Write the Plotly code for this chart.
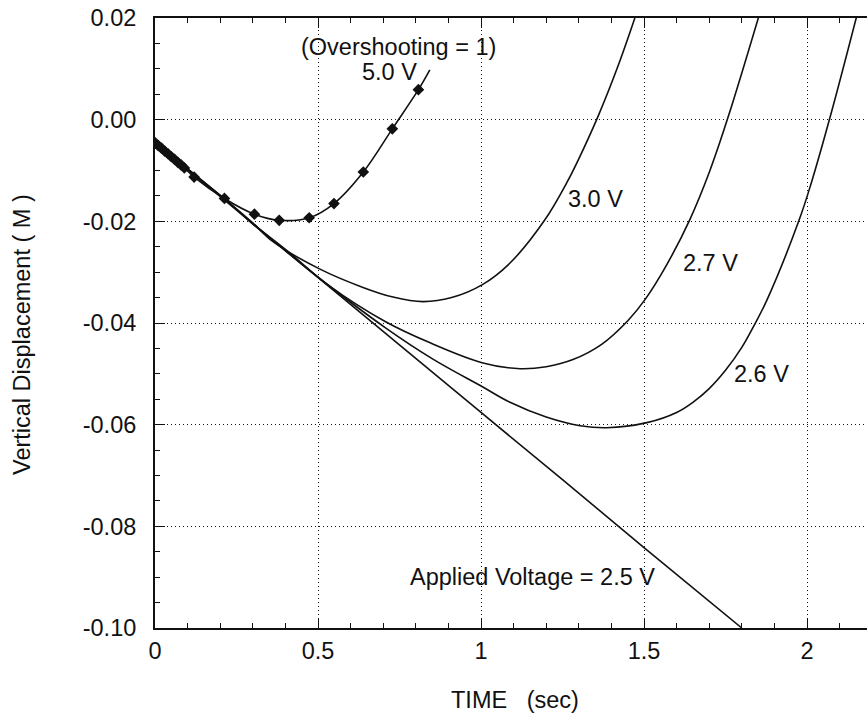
import plotly.graph_objects as go

# ---------------- data ----------------
t_25 = [0.0, 0.25, 0.5, 0.75, 1.0, 1.25, 1.5, 1.8]
y_25 = [-0.0045, -0.0178, -0.0311, -0.0444, -0.0576, -0.0708, -0.0842, -0.1000]

t_26 = [0.0, 0.23, 0.30, 0.40, 0.50, 0.706, 0.85, 1.003, 1.089, 1.20, 1.304, 1.386,
        1.509, 1.60, 1.65, 1.70, 1.75, 1.80, 1.84, 1.877, 1.975, 2.012, 2.073, 2.153]
y_26 = [-0.0045, -0.0165, -0.0205, -0.0258, -0.0310, -0.0409, -0.0470, -0.0525, -0.0556,
        -0.0585, -0.0602, -0.0606, -0.0596, -0.0576, -0.0556, -0.0529, -0.0493, -0.0448,
        -0.0402, -0.0355, -0.0199, -0.0127, 0.0010, 0.0205]

t_27 = [0.0, 0.23, 0.30, 0.40, 0.537, 0.706, 0.844, 1.003, 1.12, 1.20, 1.282, 1.37,
        1.451, 1.503, 1.57, 1.641, 1.70, 1.758, 1.853]
y_27 = [-0.0045, -0.0165, -0.0205, -0.0255, -0.0328, -0.0397, -0.0439, -0.0478, -0.0490,
        -0.0486, -0.0472, -0.0442, -0.0395, -0.0354, -0.0285, -0.0196, -0.0104, 0.0005,
        0.0205]

t_30 = [0.0, 0.12, 0.23, 0.30, 0.362, 0.503, 0.638, 0.73, 0.822, 0.91, 1.003, 1.089,
        1.196, 1.264, 1.30, 1.36, 1.42, 1.472]
y_30 = [-0.0045, -0.0109, -0.0165, -0.0203, -0.0240, -0.0293, -0.0330, -0.0349, -0.0358,
        -0.0350, -0.0325, -0.0282, -0.0197, -0.0123, -0.0077, 0.0008, 0.0105, 0.0200]

t_50 = [0.0, 0.01, 0.02, 0.03, 0.04, 0.05, 0.06, 0.07, 0.08, 0.09, 0.12, 0.213, 0.305,
        0.381, 0.473, 0.549, 0.639, 0.728, 0.808, 0.843]
y_50 = [-0.0045, -0.0051, -0.0056, -0.0062, -0.0067, -0.0073, -0.0078, -0.0084, -0.0089,
        -0.0095, -0.0113, -0.0155, -0.0186, -0.0198, -0.0193, -0.0165, -0.0103, -0.0018,
        0.0059, 0.0098]

x_tickvals = [0, 0.5, 1, 1.5, 2]
x_ticktext = ["0", "0.5", "1", "1.5", "2"]
y_tickvals = [0.02, 0.0, -0.02, -0.04, -0.06, -0.08, -0.10]
y_ticktext = ["0.02", "0.00", "-0.02", "-0.04", "-0.06", "-0.08", "-0.10"]

# ---------------- figure ----------------
FONT = "Liberation Sans, Arial, Helvetica, sans-serif"
INK = "#111111"
line_style = dict(color=INK, width=1.6, shape="spline", smoothing=1.0)

fig = go.Figure()
fig.add_trace(go.Scatter(x=t_25, y=y_25, mode="lines",
                         line=dict(color=INK, width=1.6),
                         hoverinfo="skip", showlegend=False))
for tx, ty in [(t_26, y_26), (t_27, y_27), (t_30, y_30), (t_50, y_50)]:
    fig.add_trace(go.Scatter(x=tx, y=ty, mode="lines", line=line_style,
                             hoverinfo="skip", showlegend=False))
fig.add_trace(go.Scatter(x=t_50[:-1], y=y_50[:-1], mode="markers",
                         marker=dict(symbol="diamond", size=9, color=INK),
                         hoverinfo="skip", showlegend=False))

ann_font = dict(family=FONT, size=23.5, color=INK)
labels = [
    ("(Overshooting = 1)", 0.748, 0.0142),
    ("5.0 V", 0.719, 0.0094),
    ("3.0 V", 1.35, -0.0157),
    ("2.7 V", 1.705, -0.0281),
    ("2.6 V", 1.861, -0.0500),
    ("Applied Voltage = 2.5 V", 1.159, -0.0899),
]
for txt, ax, ay in labels:
    fig.add_annotation(x=ax, y=ay, xref="x", yref="y", text=txt, showarrow=False,
                       font=ann_font, xanchor="center", yanchor="middle",
                       bgcolor="rgba(0,0,0,0)")

fig.add_annotation(x=(515 - 155) / 712, y=(628 - 700) / 610, xref="paper", yref="paper",
                   text="TIME&nbsp;&nbsp;&nbsp;(sec)", showarrow=False, font=ann_font,
                   xanchor="center", yanchor="middle")
fig.add_annotation(x=(22 - 155) / 712, y=(628 - 335) / 610, xref="paper", yref="paper",
                   text="Vertical Displacement ( M )", showarrow=False, font=ann_font,
                   textangle=-90, xanchor="center", yanchor="middle")

fig.update_layout(
    width=867, height=720,
    margin=dict(l=155, r=0, t=18, b=92),
    paper_bgcolor="white", plot_bgcolor="white",
    font=dict(family=FONT, size=23.5, color=INK),
    showlegend=False,
)
grid_dash = "1.4px,2.6px"
fig.update_xaxes(
    range=[0, 712 / 326], tickmode="array", tickvals=x_tickvals, ticktext=x_ticktext,
    ticks="inside", ticklen=10, tickwidth=1.3, tickcolor=INK,
    showline=True, linecolor=INK, linewidth=2, mirror="ticks",
    showgrid=True, gridcolor=INK, gridwidth=1.2, griddash=grid_dash,
    zeroline=False, ticklabelstandoff=1,
    minor=dict(dtick=0.1, tick0=0, ticks="inside", ticklen=5, tickwidth=1.2,
               tickcolor=INK, showgrid=False),
    tickfont=dict(family=FONT, size=23.5, color=INK),
)
fig.update_yaxes(
    range=[-0.10, 0.02], tickmode="array", tickvals=y_tickvals, ticktext=y_ticktext,
    ticks="inside", ticklen=10, tickwidth=1.3, tickcolor=INK,
    showline=True, linecolor=INK, linewidth=2, mirror=False,
    showgrid=True, gridcolor=INK, gridwidth=1.2, griddash=grid_dash,
    zeroline=False, ticklabelstandoff=12,
    minor=dict(dtick=0.005, tick0=0, ticks="inside", ticklen=5, tickwidth=1.2,
               tickcolor=INK, showgrid=False),
    tickfont=dict(family=FONT, size=23.5, color=INK),
)

fig.write_html("out.html")
